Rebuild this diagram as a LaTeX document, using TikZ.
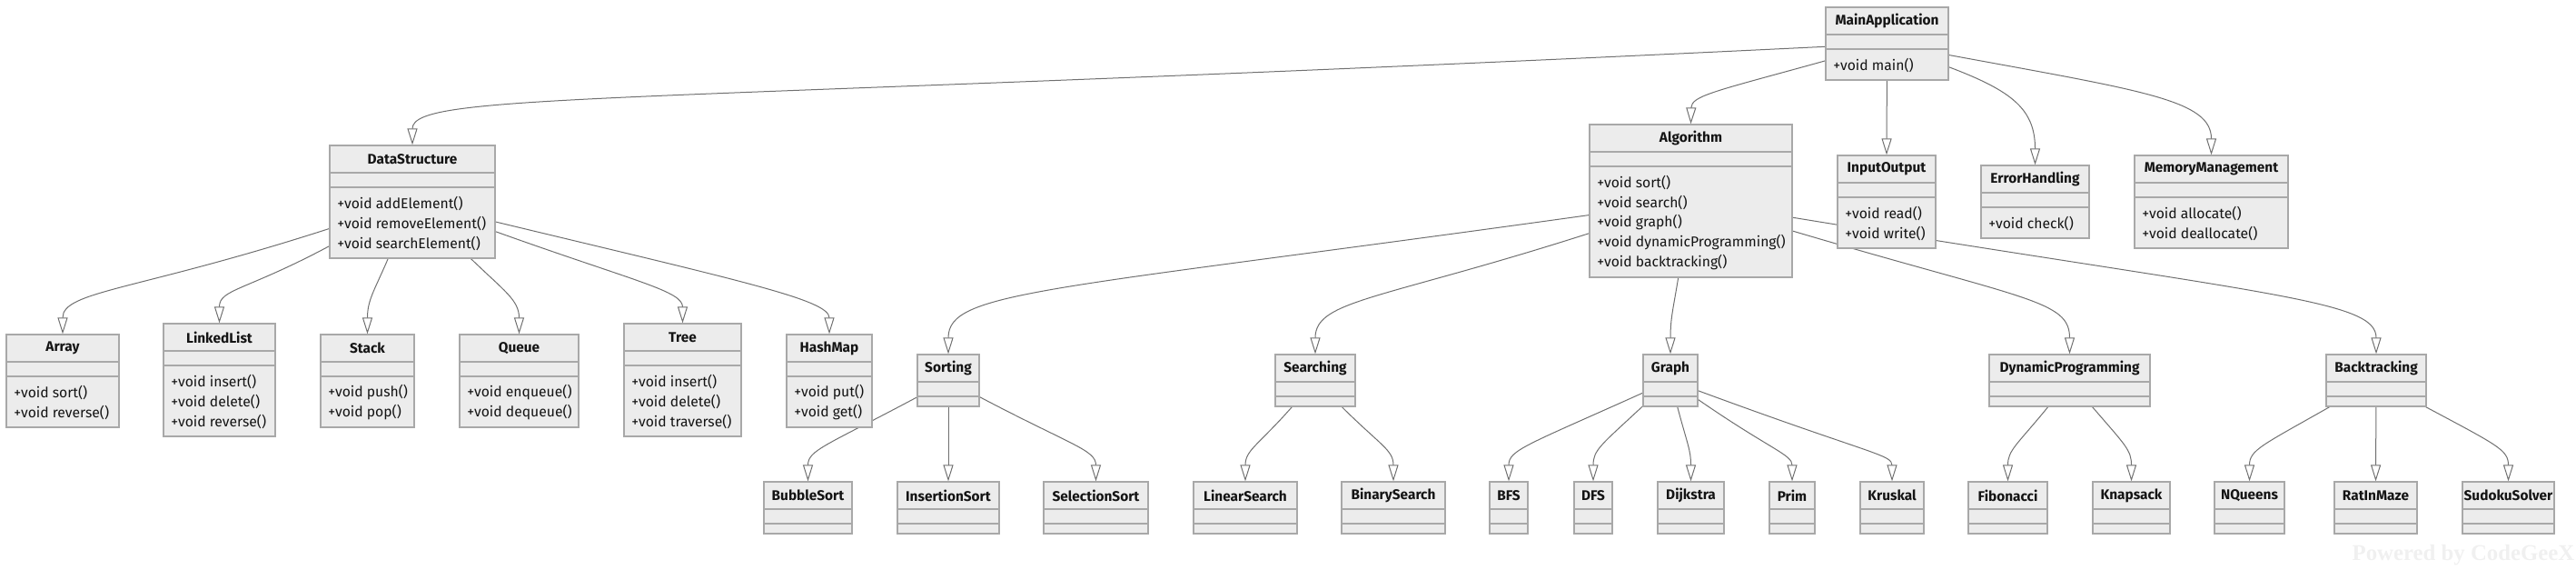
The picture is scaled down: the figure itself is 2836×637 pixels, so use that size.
\documentclass[tikz,border=0pt]{standalone}
\usepackage{fontspec}
\setmainfont{Fira Sans}
\newfontfamily\markfont{Liberation Serif}
\usepackage{xcolor}
\definecolor{BoxFill}{RGB}{236,236,236}
\definecolor{BoxLine}{RGB}{168,168,168}
\definecolor{EdgeCol}{RGB}{112,112,112}
\definecolor{TextCol}{RGB}{20,20,20}
\definecolor{MarkCol}{RGB}{240,240,240}
\usepackage{tikz}
\usetikzlibrary{fit}
\usetikzlibrary{arrows.meta}
\usetikzlibrary{backgrounds}
\tikzstyle{Box}=[draw=BoxLine,fill=BoxFill,line width=0.6pt,inner sep=0pt]
\tikzstyle{Sep}=[draw=BoxLine,line width=0.6pt]
\tikzstyle{Title}=[font=\fontsize{7.7}{9}\selectfont\bfseries,text=TextCol,inner sep=0pt]
\tikzstyle{Meth}=[font=\fontsize{7.85}{9}\selectfont,text=TextCol,inner sep=0pt,anchor=west]
\tikzstyle{Edge}=[draw=EdgeCol,line width=0.5pt,
  -{Triangle[open,length=9pt,width=5.5pt]}]
\tikzstyle{Mark}=[font=\markfont\bfseries\fontsize{12.4}{14}\selectfont,text=MarkCol]
% class box: name, left, top, right, lines, title, methods
\newcommand{\UmlClass}[7]{%
  \pgfmathsetmacro{\Bot}{#3+58+22*#5}
  \node[Box,fit={(#2,#3) (#4,\Bot)}](#1){};
  \node[Title](#1-t)at({(#2+#4)/2},#3+15){#6};
  \draw[Sep](#2,#3+30)--(#4,#3+30) (#2,#3+46)--(#4,#3+46);
  \foreach \m [count=\i from 0] in {#7}
    \node[Meth](#1-m\i)at(#2+8,#3+64+22*\i){\m};
}
% class box without methods: name, left, top, right, title
\newcommand{\UmlEmpty}[5]{%
  \node[Box,fit={(#2,#3) (#4,#3+57)}](#1){};
  \node[Title](#1-t)at({(#2+#4)/2},#3+15){#5};
  \draw[Sep](#2,#3+30)--(#4,#3+30) (#2,#3+46)--(#4,#3+46);
}

\begin{document}
\begin{tikzpicture}[x=0.5pt,y=-0.5pt]
    \useasboundingbox (0,0) rectangle (2836,637);
    \UmlClass{main}{2010}{8}{2145}{1}{MainApplication}{+void main()}
    \UmlClass{ds}{363}{160}{545}{3}{DataStructure}
        {+void addElement(),+void removeElement(),+void searchElement()}
    \UmlClass{alg}{1750}{137}{1973}{5}{Algorithm}
        {+void sort(),+void search(),+void graph(),
         +void dynamicProgramming(),+void backtracking()}
    \UmlClass{io}{2023}{171}{2131}{2}{InputOutput}{+void read(),+void write()}
    \UmlClass{err}{2181}{182}{2300}{1}{ErrorHandling}{+void check()}
    \UmlClass{mem}{2350}{171}{2519}{2}{MemoryManagement}
        {+void allocate(),+void deallocate()}
    \UmlClass{arr}{7}{368}{131}{2}{Array}{+void sort(),+void reverse()}
    \UmlClass{ll}{180}{356}{303}{3}{LinkedList}
        {+void insert(),+void delete(),+void reverse()}
    \UmlClass{stk}{353}{368}{456}{2}{Stack}{+void push(),+void pop()}
    \UmlClass{que}{506}{368}{637}{2}{Queue}{+void enqueue(),+void dequeue()}
    \UmlClass{tree}{687}{356}{816}{3}{Tree}
        {+void insert(),+void delete(),+void traverse()}
    \UmlClass{hmap}{866}{368}{960}{2}{HashMap}{+void put(),+void get()}
    \UmlEmpty{sort}{1010}{390}{1078}{Sorting}
    \UmlEmpty{srch}{1404}{390}{1492}{Searching}
    \UmlEmpty{graph}{1809}{390}{1869}{Graph}
    \UmlEmpty{dp}{2190}{390}{2367}{DynamicProgramming}
    \UmlEmpty{bt}{2561}{390}{2671}{Backtracking}
    \UmlEmpty{bub}{841}{530}{938}{BubbleSort}
    \UmlEmpty{ins}{988}{530}{1100}{InsertionSort}
    \UmlEmpty{sel}{1149}{530}{1264}{SelectionSort}
    \UmlEmpty{lin}{1314}{530}{1428}{LinearSearch}
    \UmlEmpty{bin}{1477}{530}{1591}{BinarySearch}
    \UmlEmpty{bfs}{1640}{530}{1682}{BFS}
    \UmlEmpty{dfs}{1733}{530}{1775}{DFS}
    \UmlEmpty{dij}{1825}{530}{1898}{Dijkstra}
    \UmlEmpty{prim}{1948}{530}{1998}{Prim}
    \UmlEmpty{krus}{2048}{530}{2118}{Kruskal}
    \UmlEmpty{fib}{2167}{530}{2254}{Fibonacci}
    \UmlEmpty{knap}{2304}{530}{2389}{Knapsack}
    \UmlEmpty{nq}{2438}{530}{2515}{NQueens}
    \UmlEmpty{rat}{2570}{530}{2661}{RatInMaze}
    \UmlEmpty{sud}{2711}{530}{2812}{SudokuSolver}
    \node[Mark](wm)at(2712,611){Powered by CodeGeeX};
    \begin{scope}[on background layer]
        % top level
        \draw[Edge](main)..controls(700,115)and(454,100)..(ds.north);
        \draw[Edge](main)..controls(1890,100)and(1862,105)..(alg.north);
        \draw[Edge](main)--(io.north);
        \draw[Edge](main)..controls(2215,100)and(2240.5,120)..(err.north);
        \draw[Edge](main)..controls(2360,100)and(2434.5,110)..(mem.north);
        % data structures
        \draw[Edge](ds)..controls(150,320)and(69,320)..(arr.north);
        \draw[Edge](ds)..controls(270,320)and(241.5,318)..(ll.north);
        \draw[Edge](ds)..controls(412,320)and(404.5,330)..(stk.north);
        \draw[Edge](ds)..controls(555,320)and(571.5,330)..(que.north);
        \draw[Edge](ds)..controls(700,310)and(751.5,320)..(tree.north);
        \draw[Edge](ds)..controls(820,310)and(913,330)..(hmap.north);
        % algorithms
        \draw[Edge](alg)..controls(1150,320)and(1044,320)..(sort.north);
        \draw[Edge](alg)..controls(1520,330)and(1448,330)..(srch.north);
        \draw[Edge](alg)..controls(1842,340)and(1839,350)..(graph.north);
        \draw[Edge](alg)..controls(2230,330)and(2278.5,330)..(dp.north);
        \draw[Edge](alg)..controls(2500,325)and(2616,330)..(bt.north);
        % leaves
        \draw[Edge](sort)..controls(910,490)and(889.5,495)..(bub.north);
        \draw[Edge](sort)--(ins.north);
        \draw[Edge](sort)..controls(1180,490)and(1206.5,495)..(sel.north);
        \draw[Edge](srch)..controls(1385,490)and(1371,495)..(lin.north);
        \draw[Edge](srch)..controls(1520,490)and(1534,495)..(bin.north);
        \draw[Edge](graph)..controls(1680,490)and(1661,495)..(bfs.north);
        \draw[Edge](graph)..controls(1762,490)and(1754,495)..(dfs.north);
        \draw[Edge](graph)..controls(1858,490)and(1861.5,495)..(dij.north);
        \draw[Edge](graph)..controls(1950,495)and(1973,500)..(prim.north);
        \draw[Edge](graph)..controls(2060,500)and(2083,500)..(krus.north);
        \draw[Edge](dp)..controls(2220,490)and(2210.5,495)..(fib.north);
        \draw[Edge](dp)..controls(2340,490)and(2346.5,495)..(knap.north);
        \draw[Edge](bt)..controls(2490,490)and(2476.5,495)..(nq.north);
        \draw[Edge](bt)--(rat.north);
        \draw[Edge](bt)..controls(2750,490)and(2761.5,495)..(sud.north);
    \end{scope}
\end{tikzpicture}
\end{document}
